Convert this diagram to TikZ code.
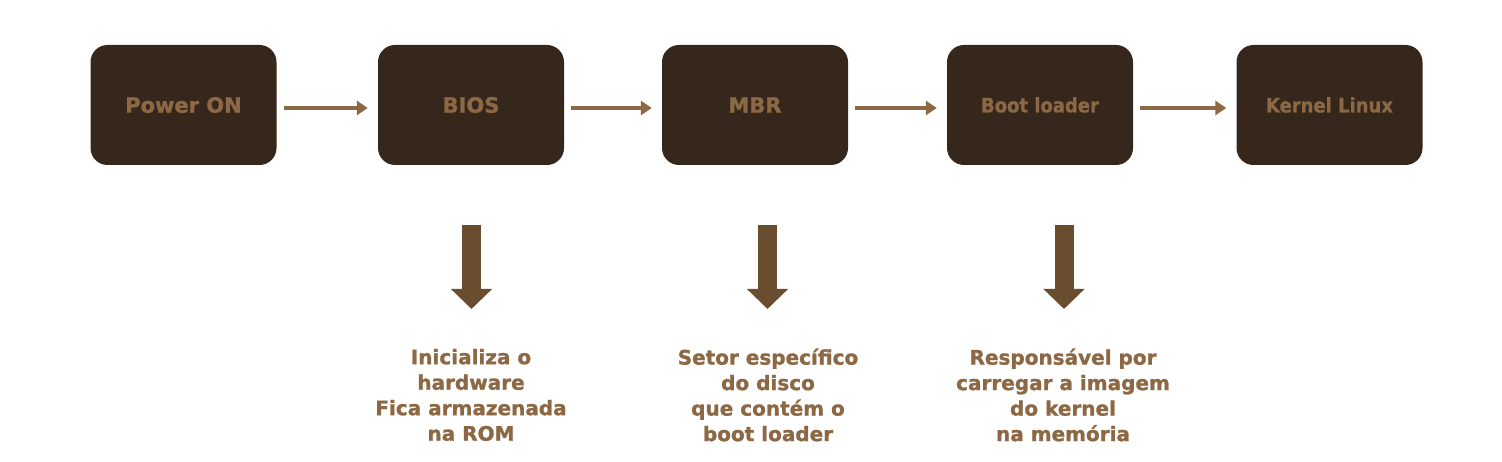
\documentclass[tikz,border=0pt]{standalone}
\usepackage{fontspec}
\setmainfont{DejaVu Sans}[BoldFeatures={FakeBold=1.2}]
\newfontfamily\condfont{DejaVu Sans Condensed}[BoldFeatures={FakeBold=0.8}]
\usetikzlibrary{arrows.meta,calc}
\definecolor{boxfill}{HTML}{35271B}
\definecolor{txtbrown}{HTML}{8C6844}
\definecolor{harrow}{HTML}{8C6845}
\definecolor{varrow}{HTML}{6A4D2F}
\begin{document}
\begin{tikzpicture}[x=1pt,y=1pt,
  stepbox/.style={draw=none,fill=boxfill,rounded corners=17pt,minimum width=186pt,minimum height=120pt,
     text=txtbrown,font=\fontsize{21}{24}\selectfont\bfseries,inner sep=0pt},
  condbox/.style={stepbox,font=\condfont\fontsize{20}{24}\selectfont\bfseries},
  flow/.style={draw=harrow,line width=4pt,-{Triangle[width=14pt,length=11pt]}},
  down/.style={draw=varrow,line width=19pt,-{Triangle[width=40pt,length=20pt]}},
  note/.style={text=txtbrown,align=center,font=\fontsize{20}{25.5}\selectfont\bfseries,inner sep=0pt}]
\useasboundingbox (0,0) rectangle (1502,462);
% boxes (image y -> 462 - y)
\node[stepbox] (pw)   at (183.5,357) {Power ON};
\node[stepbox] (bios) at (471,357)   {BIOS};
\node[stepbox] (mbr)  at (755,357)   {MBR};
\node[condbox] (boot) at (1040,357)  {Boot loader};
\node[condbox] (kern) at (1329.5,357){Kernel Linux};
% horizontal arrows
\draw[flow] ($(pw.east)+(7,-3)$)   -- ($(bios.west)+(-10,-3)$);
\draw[flow] ($(bios.east)+(7,-3)$) -- ($(mbr.west)+(-10,-3)$);
\draw[flow] ($(mbr.east)+(7,-3)$)  -- ($(boot.west)+(-10,-3)$);
\draw[flow] ($(boot.east)+(7,-3)$) -- ($(kern.west)+(-10,-3)$);
% notes
\node[note] (n1) at (471,67)  {Inicializa o\\hardware\\Fica armazenada\\na ROM};
\node[note] (n2) at (768,67)  {Setor específico\\do disco\\que contém o\\boot loader};
\node[note] (n3) at (1063,67) {Responsável por\\carregar a imagem\\do kernel\\na memória};
% down arrows
\coordinate (d1s) at (471.5,237);  \coordinate (d1e) at (471.5,153);
\coordinate (d2s) at (767.5,237);  \coordinate (d2e) at (767.5,153);
\coordinate (d3s) at (1064,237);   \coordinate (d3e) at (1064,153);
\draw[down] (d1s) -- (d1e);
\draw[down] (d2s) -- (d2e);
\draw[down] (d3s) -- (d3e);
\end{tikzpicture}
\end{document}
